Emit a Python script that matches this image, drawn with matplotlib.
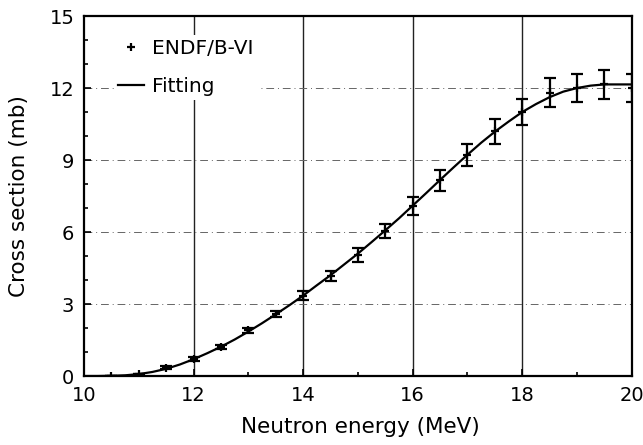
import matplotlib.pyplot as plt
from matplotlib.lines import Line2D
from matplotlib.ticker import MultipleLocator

plt.rcParams['font.family'] = ['DejaVu Sans']

# ENDF/B-VI evaluated points with their uncertainties
energia = [10.5, 11.0, 11.5, 12.0, 12.5, 13.0, 13.5, 14.0, 14.5, 15.0,
           15.5, 16.0, 16.5, 17.0, 17.5, 18.0, 18.5, 19.0, 19.5, 20.0]
secao = [0.02, 0.1, 0.35, 0.72, 1.22, 1.9, 2.58, 3.35, 4.18, 5.05,
         6.05, 7.1, 8.15, 9.2, 10.2, 11.0, 11.8, 12.0, 12.15, 12.0]
erro = [0.0, 0.0, 0.05, 0.08, 0.08, 0.1, 0.12, 0.18, 0.2, 0.28,
        0.28, 0.38, 0.42, 0.45, 0.52, 0.55, 0.6, 0.6, 0.6, 0.6]

# fitted curve
energia_fit = [10.0, 10.25, 10.5, 10.75, 11.0, 11.25, 11.5, 11.75, 12.0, 12.25,
               12.5, 12.75, 13.0, 13.25, 13.5, 13.75, 14.0, 14.25, 14.5, 14.75,
               15.0, 15.25, 15.5, 15.75, 16.0, 16.25, 16.5, 16.75, 17.0, 17.25,
               17.5, 17.75, 18.0, 18.25, 18.5, 18.75, 19.0, 19.25, 19.5, 19.75, 20.0]
secao_fit = [0.0, 0.0, 0.01, 0.03, 0.08, 0.17, 0.3, 0.48, 0.7, 0.95,
             1.22, 1.52, 1.85, 2.2, 2.57, 2.95, 3.35, 3.78, 4.2, 4.65,
             5.1, 5.58, 6.07, 6.57, 7.1, 7.63, 8.17, 8.7, 9.22, 9.72,
             10.18, 10.6, 11.0, 11.33, 11.62, 11.85, 12.0, 12.1, 12.15, 12.15, 12.15]

fig = plt.figure(figsize=(6.43, 4.45), dpi=100)
ax = fig.add_axes([0.1306, 0.155, 0.852, 0.809])

for x in [12, 14, 16, 18]:
    ax.axvline(x, color='#222222', lw=1.0, zorder=1)
for y in [3, 6, 9, 12]:
    ax.axhline(y, color='#666666', lw=0.7, ls=(0, (8, 4, 1, 4)), zorder=1)

ax.plot(energia_fit, secao_fit, color='black', lw=1.6, zorder=3)
ax.errorbar(energia, secao, yerr=erro, fmt='+', color='black', ms=6, mew=1.6,
            elinewidth=1.6, capsize=4, capthick=1.6, zorder=4)

ax.set_xlim(10, 20)
ax.set_ylim(0, 15)
ax.xaxis.set_major_locator(MultipleLocator(2))
ax.xaxis.set_minor_locator(MultipleLocator(1))
ax.yaxis.set_major_locator(MultipleLocator(3))
ax.yaxis.set_minor_locator(MultipleLocator(1))
ax.tick_params(which='both', direction='in', labelsize=14, width=1.2)
ax.tick_params(which='major', length=5)
ax.tick_params(which='minor', length=3)
ax.tick_params(axis='x', pad=7)
ax.tick_params(axis='y', pad=7)
for s in ax.spines.values():
    s.set_linewidth(1.6)

ax.set_xlabel('Neutron energy (MeV)', fontsize=15.5)
ax.set_ylabel('Cross section (mb)', fontsize=15.5)
ax.xaxis.set_label_coords(0.504, -0.113)
ax.yaxis.set_label_coords(-0.1, 0.5)

handles = [Line2D([], [], marker='+', ls='none', color='black', ms=6, mew=1.6),
           Line2D([], [], color='black', lw=1.6)]
leg = ax.legend(handles, ['ENDF/B-VI', 'Fitting'], loc='upper left',
                bbox_to_anchor=(0.055, 0.947), fontsize=14.5, handlelength=1.3,
                handletextpad=0.4, labelspacing=0.95, borderpad=0.2,
                borderaxespad=0, frameon=True, fancybox=False, framealpha=1,
                edgecolor='none', facecolor='white')
leg.set_zorder(5)

fig.savefig('out.png', dpi=100)
